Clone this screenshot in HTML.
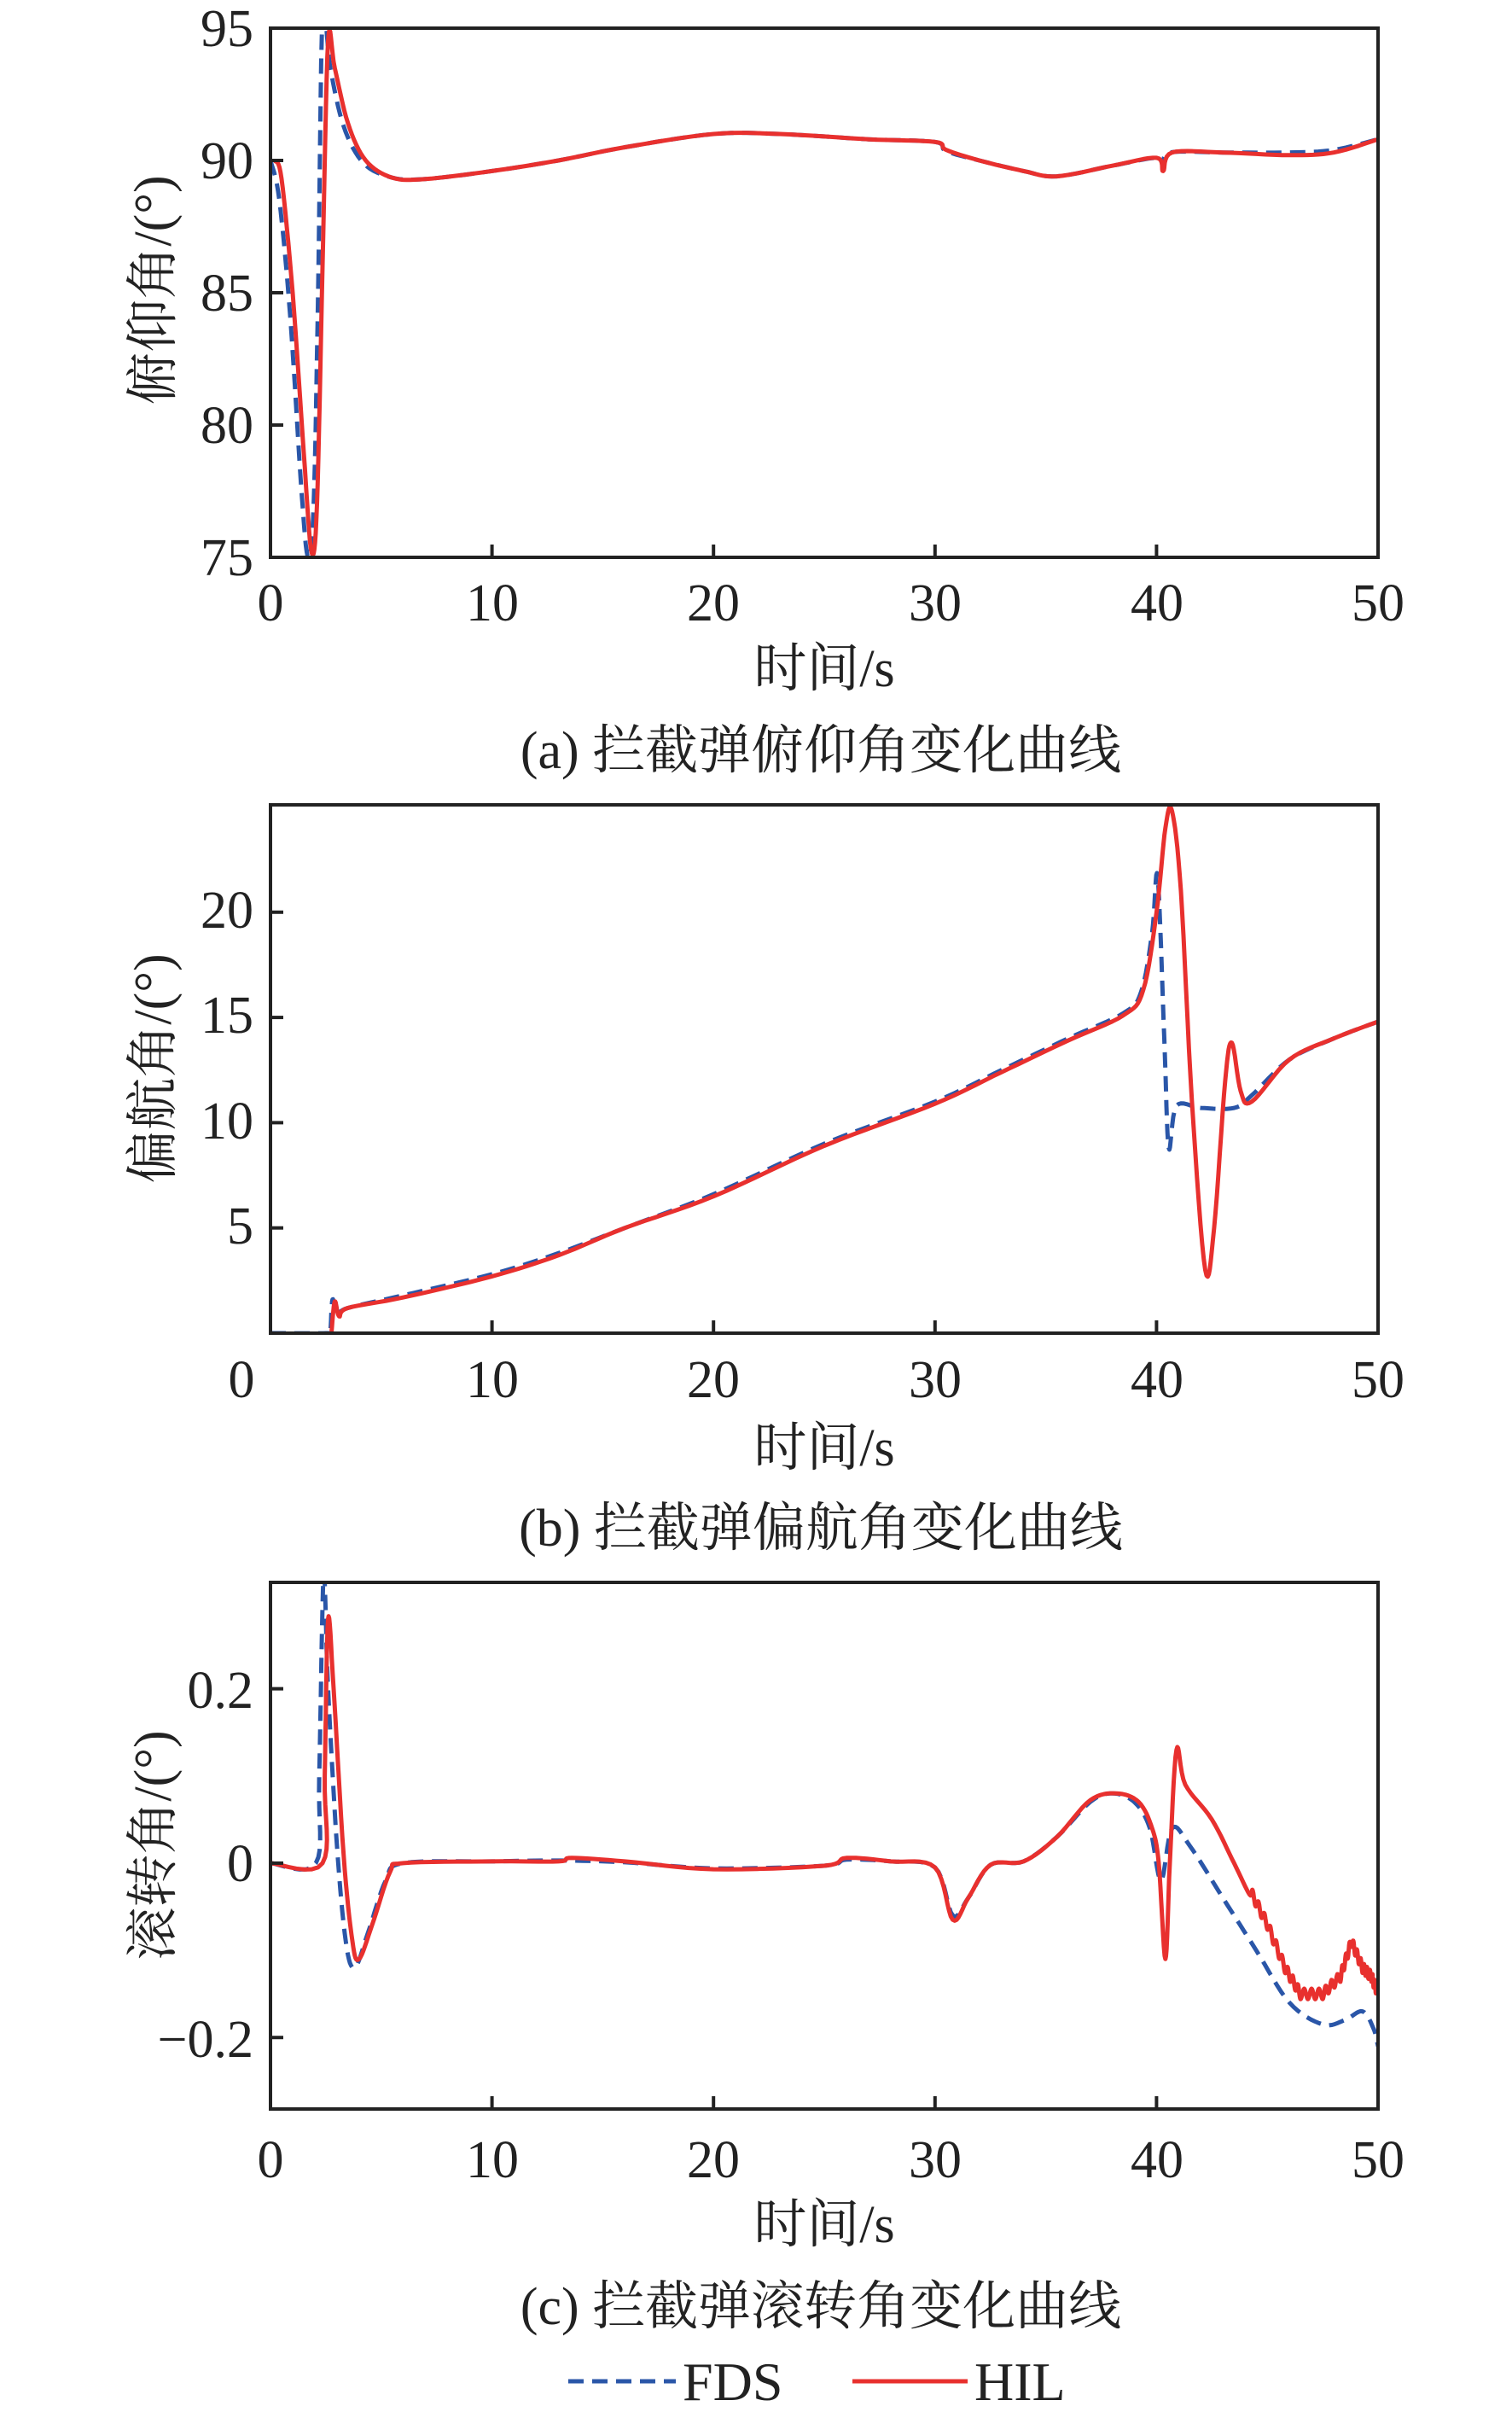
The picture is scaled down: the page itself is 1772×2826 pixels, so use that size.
<!DOCTYPE html>
<html><head><meta charset="utf-8"><style>
html,body{margin:0;padding:0;background:#fff}
svg{display:block}
text{font-family:"Liberation Serif","Noto Serif CJK SC",serif;fill:#222}
</style></head><body>
<svg id="s" width="1772" height="2826" viewBox="0 0 1772 2826" xmlns="http://www.w3.org/2000/svg">
<g id="g"></g>
<g font-size="62">
<text x="297" y="54" text-anchor="end">95</text>
<text x="297" y="209" text-anchor="end">90</text>
<text x="297" y="364" text-anchor="end">85</text>
<text x="297" y="519" text-anchor="end">80</text>
<text x="297" y="674" text-anchor="end">75</text>
<text x="297" y="1087" text-anchor="end">20</text>
<text x="297" y="1210" text-anchor="end">15</text>
<text x="297" y="1334" text-anchor="end">10</text>
<text x="297" y="1457" text-anchor="end">5</text>
<text x="297" y="2001" text-anchor="end">0.2</text>
<text x="297" y="2204" text-anchor="end">0</text>
<text x="297" y="2410" text-anchor="end">−0.2</text>
</g>
<g font-size="62" text-anchor="middle">
<text x="317" y="727">0</text><text x="577" y="727">10</text><text x="836" y="727">20</text><text x="1096" y="727">30</text><text x="1356" y="727">40</text><text x="1615" y="727">50</text>
<text x="283" y="1637">0</text><text x="577" y="1637">10</text><text x="836" y="1637">20</text><text x="1096" y="1637">30</text><text x="1356" y="1637">40</text><text x="1615" y="1637">50</text>
<text x="317" y="2551">0</text><text x="577" y="2551">10</text><text x="836" y="2551">20</text><text x="1096" y="2551">30</text><text x="1356" y="2551">40</text><text x="1615" y="2551">50</text>
<text x="966" y="804">时间/s</text>
<text x="966" y="1717">时间/s</text>
<text x="966" y="2627">时间/s</text>
<text x="962" y="900">(a) 拦截弹俯仰角变化曲线</text>
<text x="962" y="1811">(b) 拦截弹偏航角变化曲线</text>
<text x="962" y="2723">(c) 拦截弹滚转角变化曲线</text>
</g>
<g font-size="62" text-anchor="middle">
<text transform="translate(200,340) rotate(-90)">俯仰角/(°)</text>
<text transform="translate(200,1252) rotate(-90)">偏航角/(°)</text>
<text transform="translate(200,2162) rotate(-90)">滚转角/(°)</text>
</g>
<line x1="666" y1="2790" x2="792" y2="2790" stroke="#2a56a8" stroke-width="5" stroke-dasharray="18,10"/>
<text x="800" y="2812" font-size="64">FDS</text>
<line x1="999" y1="2790" x2="1134" y2="2790" stroke="#e8302e" stroke-width="5"/>
<text x="1142" y="2812" font-size="64">HIL</text>
</svg>
<script>
var NS="http://www.w3.org/2000/svg",G=document.getElementById("g");
var L=317,R=1615;
function el(n,a){var e=document.createElementNS(NS,n);for(var k in a)e.setAttribute(k,a[k]);G.appendChild(e);return e;}
function cr(pts,n){var o=[];for(var i=0;i<pts.length-1;i++){var p0=pts[Math.max(0,i-1)],p1=pts[i],p2=pts[i+1],p3=pts[Math.min(pts.length-1,i+2)];
for(var j=0;j<n;j++){var t=j/n,t2=t*t,t3=t2*t;
var f=function(a,b,c,d){return 0.5*((2*b)+(-a+c)*t+(2*a-5*b+4*c-d)*t2+(-a+3*b-3*c+d)*t3)};
o.push([f(p0[0],p1[0],p2[0],p3[0]),f(p0[1],p1[1],p2[1],p3[1])]);}}
o.push(pts[pts.length-1]);return o;}
function plot(top,bot,y0,y1,yt,fds,hil){
 var sx=function(x){return L+(R-L)*x/50},sy=function(y){return bot-(bot-top)*(y-y0)/(y1-y0)};
 var cid="c"+top;var cp=el("clipPath",{id:cid});var r=document.createElementNS(NS,"rect");
 r.setAttribute("x",L);r.setAttribute("y",top);r.setAttribute("width",R-L);r.setAttribute("height",bot-top);cp.appendChild(r);
 function path(d,st){var p=cr(d,8).map(function(q){return sx(q[0]).toFixed(1)+","+sy(q[1]).toFixed(1)}).join(" ");
  var a={points:p,fill:"none","stroke-width":5,"clip-path":"url(#"+cid+")","stroke-linejoin":"round"};
  for(var k in st)a[k]=st[k];el("polyline",a);}
 path(fds,{stroke:"#2a56a8","stroke-dasharray":"18,10"});
 path(hil,{stroke:"#e8302e"});
 el("rect",{x:L,y:top,width:R-L,height:bot-top,fill:"none",stroke:"#222","stroke-width":4});
 for(var i=1;i<5;i++){var x=sx(i*10);el("line",{x1:x,y1:bot,x2:x,y2:bot-15,stroke:"#222","stroke-width":4});}
 yt.forEach(function(v){var y=sy(v);el("line",{x1:L,y1:y,x2:L+15,y2:y,stroke:"#222","stroke-width":4});});
}
plot(33,653,75,95,[80,85,90],
[[0,90],[0.4,88.5],[0.9,84],[1.4,77.5],[1.7,75],[1.95,77],[2.15,85],[2.35,95.5],[2.7,93.5],[3.3,91.3],[4.2,89.9],[5.5,89.35],[7,89.3],[10,89.6],[13,90],[16,90.5],[20,91],[23,91],[27,90.8],[30,90.7],[30.5,90.35],[32,90],[34,89.6],[35.5,89.4],[38,89.8],[40,90.1],[40.3,89.8],[40.6,90.3],[43,90.3],[46,90.3],[48,90.4],[50,90.8]],
[[0.2,90],[0.5,89.3],[1,85],[1.5,79],[1.85,75.2],[2.1,77],[2.35,86],[2.6,94.5],[2.9,93.5],[3.5,91.4],[4.3,90],[5.5,89.35],[7,89.3],[10,89.6],[13,90],[16,90.5],[20,91],[23,91],[27,90.8],[30,90.7],[30.5,90.4],[32,90],[34,89.6],[35.5,89.4],[38,89.8],[40,90.1],[40.3,89.6],[40.7,90.3],[43,90.3],[46,90.2],[48,90.3],[50,90.8]]);
plot(943,1562,0,25.1,[5,10,15,20],
[[0,0],[2.6,0],[2.7,0.05],[2.8,1.6],[3,0.9],[3.5,1.2],[6,1.8],[10,2.8],[13,3.8],[16,5],[20,6.6],[25,9],[30,11],[33,12.5],[36,14],[38.5,15.2],[39.3,16.2],[39.8,19],[40.05,21.7],[40.35,14],[40.55,8.8],[40.9,10.8],[42,10.7],[43.5,10.7],[44.3,11.3],[46,13],[48,14],[50,14.8]],
[[2.75,0],[2.9,1.5],[3.1,0.8],[3.5,1.2],[6,1.7],[10,2.7],[13,3.7],[16,5],[20,6.5],[25,8.9],[30,10.9],[33,12.4],[36,13.9],[38.5,15.1],[39.4,16.3],[40,20],[40.4,24],[40.7,24.8],[41.1,21],[41.6,11],[42.2,3],[42.6,5],[43.1,12],[43.4,13.8],[43.8,11.5],[44.3,11],[46,13],[48,14],[50,14.8]]);
plot(1854,2471,-0.282,0.322,[-0.2,0,0.2],
[[0,0],[2.05,0],[2.2,0.1],[2.4,0.33],[2.6,0.2],[3,0.02],[3.4,-0.09],[3.8,-0.12],[4.4,-0.08],[5.2,-0.02],[6,0],[10,0.002],[13,0.003],[16,0.001],[20,-0.006],[25,-0.003],[26,0.004],[28,0.002],[30,-0.005],[30.8,-0.06],[31.5,-0.04],[32.5,-0.002],[34,0.002],[35.5,0.03],[37,0.07],[38,0.08],[39,0.07],[39.7,0.04],[40.2,-0.02],[40.7,0.04],[41.5,0.02],[43,-0.04],[44.5,-0.1],[46,-0.16],[47.5,-0.185],[48.5,-0.18],[49.3,-0.17],[49.8,-0.19],[50,-0.21]],
(function(){var a=[[0,0],[2.35,0],[2.45,0.1],[2.6,0.28],[2.85,0.2],[3.3,0.01],[3.7,-0.09],[4.0,-0.11],[4.6,-0.07],[5.4,-0.01],[6,0],[10,0.002],[13,0.002],[13.6,0.006],[16,0.002],[20,-0.007],[25,-0.003],[26,0.006],[28,0.002],[30,-0.005],[30.8,-0.065],[31.5,-0.04],[32.5,-0.002],[34,0.002],[35.5,0.03],[37,0.072],[38.2,0.08],[39.2,0.07],[39.8,0.04],[40.1,0.0],[40.4,-0.11],[40.6,0.0],[40.9,0.13],[41.3,0.09],[42.5,0.05],[43.5,0.0]];
var b=[[44.2,-0.03],[45,-0.07],[45.8,-0.12],[46.5,-0.15],[47.5,-0.15],[48.3,-0.13],[48.8,-0.09],[49.3,-0.12],[49.7,-0.13],[50,-0.15]];
var out=a.slice();var k=0;
for(var i=0;i<b.length-1;i++){for(var j=0;j<6;j++){var t=j/6;var x=b[i][0]+(b[i+1][0]-b[i][0])*t,y=b[i][1]+(b[i+1][1]-b[i][1])*t;out.push([x,y+((k++%2)?0.006:-0.006)]);}}
out.push(b[b.length-1]);return out;})());
</script>
</body></html>
